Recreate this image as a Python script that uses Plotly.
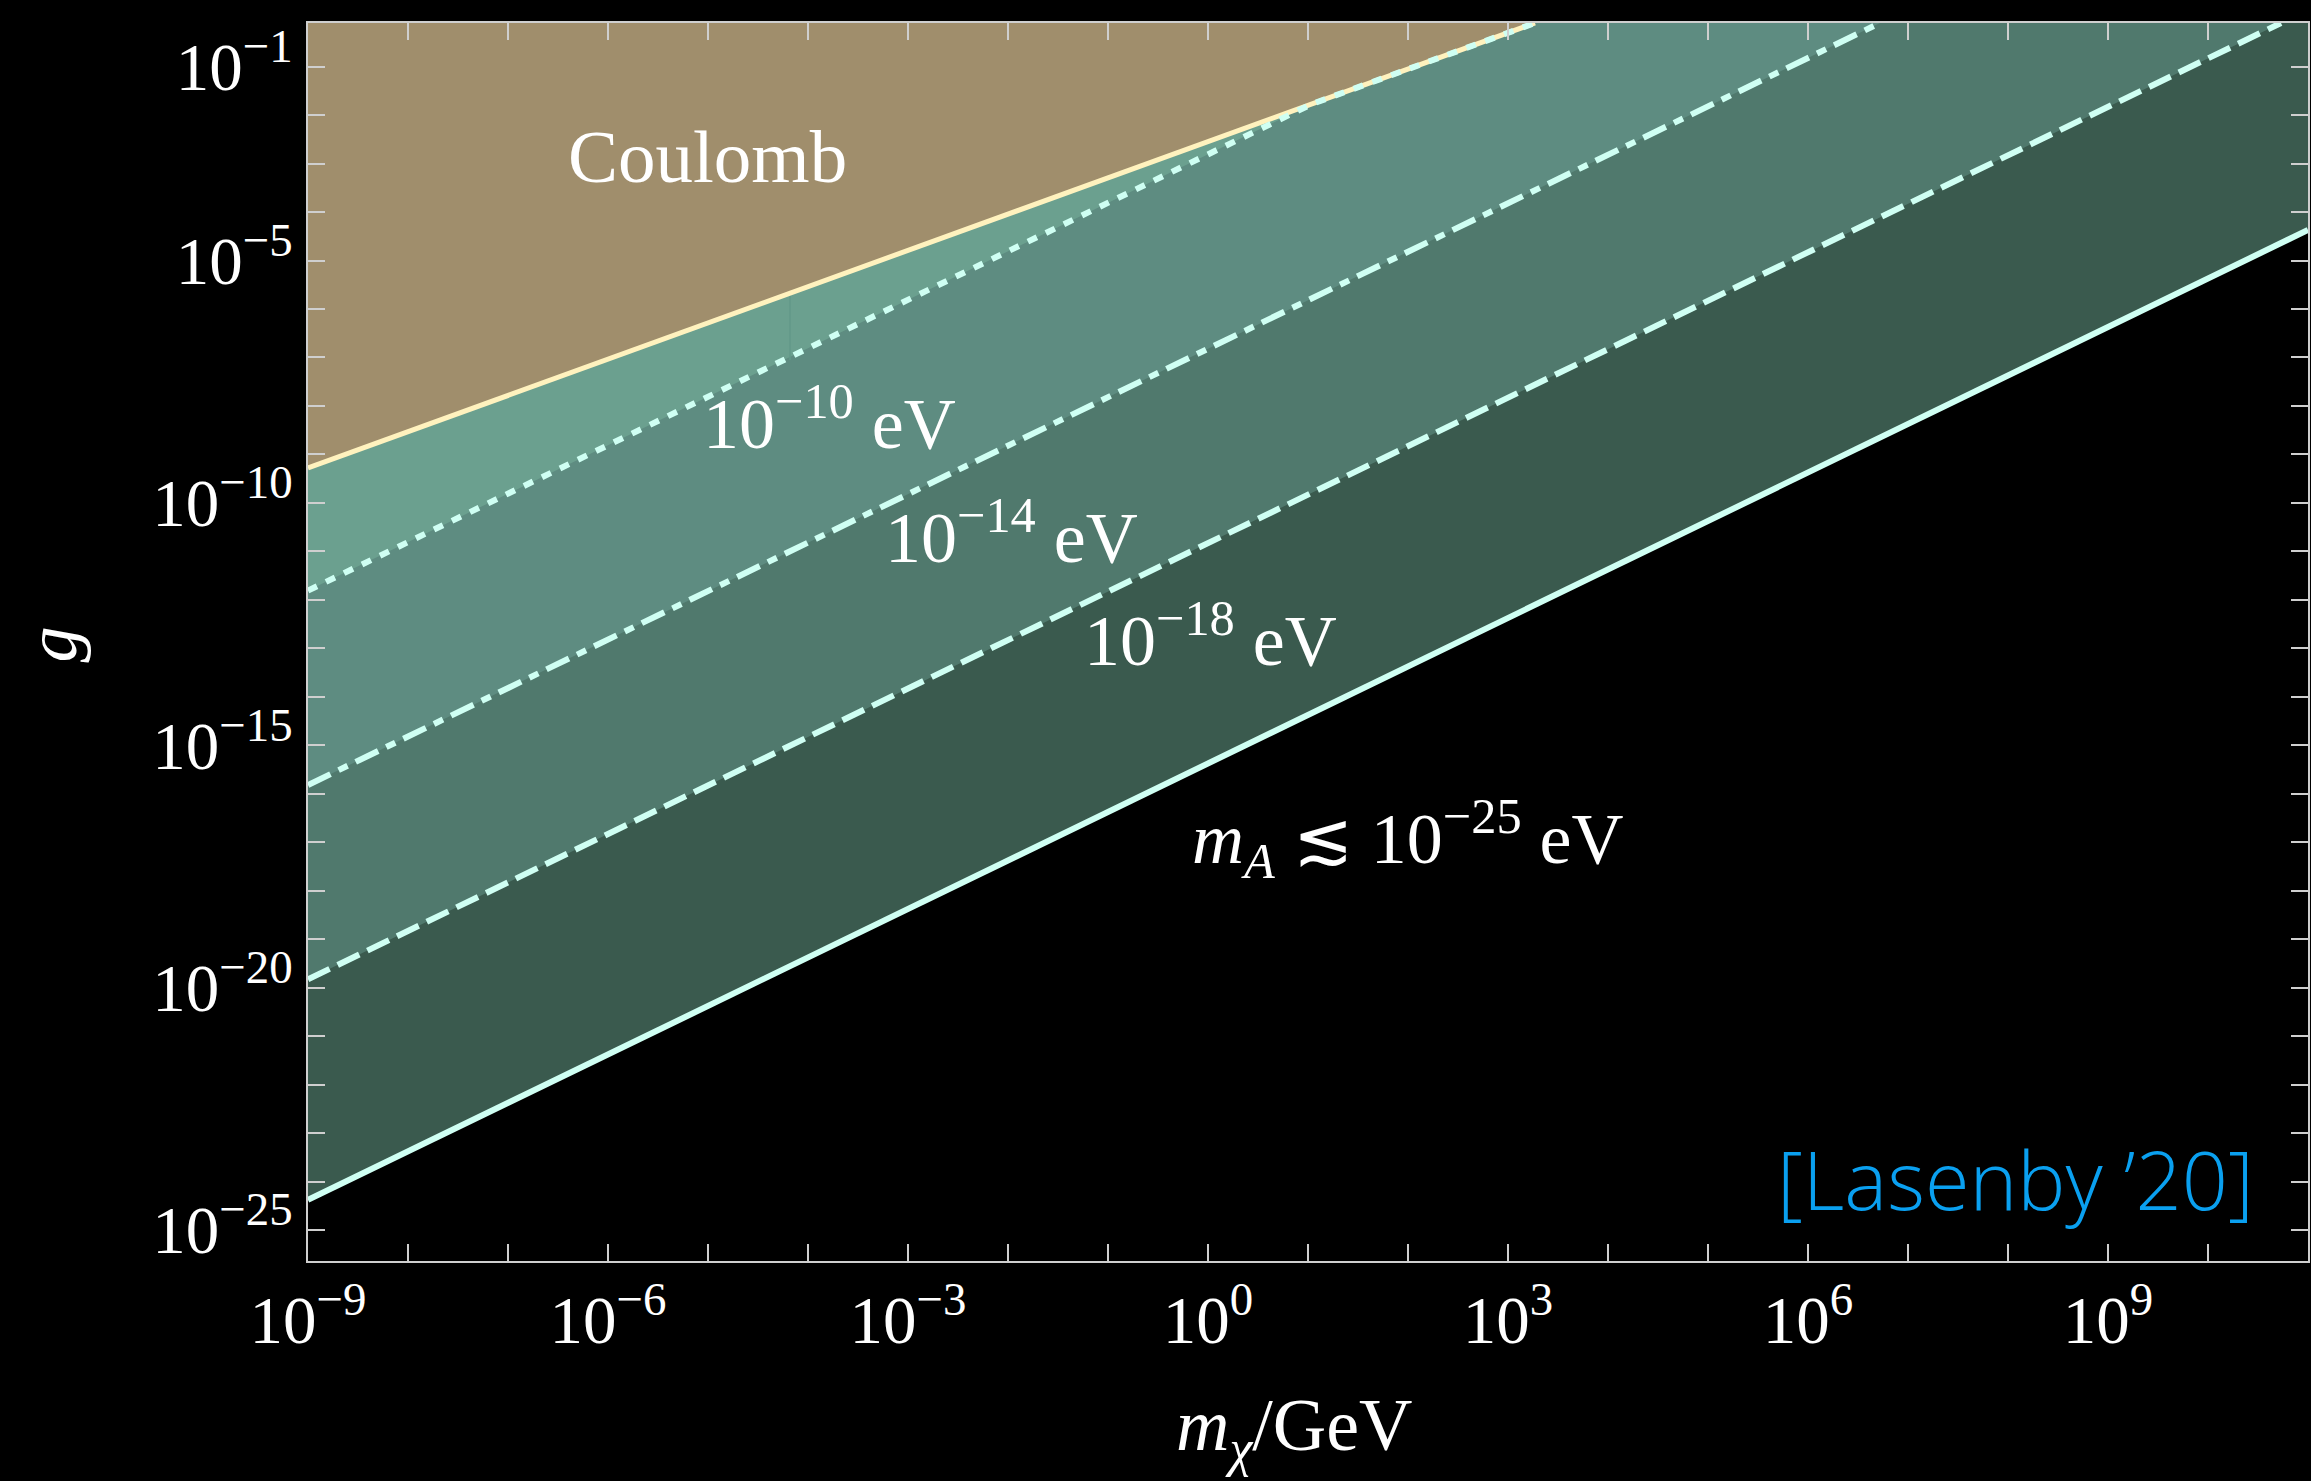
import plotly.graph_objects as go

# ---- axis extents (log10) ----
X_RANGE = [-9.0, 11.0]
Y_RANGE = [-25.64, -0.10]
TOP_EXT = 0.5

# ---- boundary curves (log10 m_chi/GeV, log10 g) ----
coulomb_logm = [-9.0, 3.27]
coulomb_logg = [-9.28, -0.10]
dotted_logm = [-9.0, 1.04, 3.27]          # 10^-10 eV (follows Coulomb after meeting it)
dotted_logg = [-11.81, -1.77, -0.10]
dashdot_logm = [-9.0, 6.72]               # 10^-14 eV
dashdot_logg = [-15.82, -0.10]
dashed_logm = [-9.0, 10.73]               # 10^-18 eV
dashed_logg = [-19.83, -0.10]
solid_logm = [-9.0, 11.0]                 # m_A <~ 10^-25 eV
solid_logg = [-24.38, -4.37]
artifact_logm = [-4.18, -4.18]
artifact_logg = [-5.67, -7.05]

# tick labels (one unlabelled tick per decade in between)
x_label_exps = [-9, -6, -3, 0, 3, 6, 9]
y_label_exps = [-1, -5, -10, -15, -20, -25]

# colours
C_COUL = "#A08E6C"
C_B1 = "#6BA08F"
C_B2 = "#5E8C81"
C_B3 = "#50796D"
C_B4 = "#3A5A4E"
C_LINE = "#CFFFF3"
C_COUL_LINE = "#FFF2BE"
AX = "#CFCFCF"

P = lambda v: [10 ** e for e in v]


def above(lm, lg):
    xs = list(lm) + [lm[-1], lm[0], lm[0]]
    ys = list(lg) + [TOP_EXT, TOP_EXT, lg[0]]
    return P(xs), P(ys)


fig = go.Figure()

for lm, lg, col in [(solid_logm, solid_logg, C_B4), (dashed_logm, dashed_logg, C_B3),
                    (dashdot_logm, dashdot_logg, C_B2), (dotted_logm, dotted_logg, C_B1),
                    (coulomb_logm, coulomb_logg, C_COUL)]:
    xs, ys = above(lm, lg)
    fig.add_trace(go.Scatter(x=xs, y=ys, mode="lines", fill="toself", fillcolor=col,
                             line=dict(width=0, color=col), hoverinfo="skip", showlegend=False))

fig.add_trace(go.Scatter(x=P(artifact_logm), y=P(artifact_logg), mode="lines",
                         line=dict(color="#629888", width=1.5), showlegend=False))

fig.add_trace(go.Scatter(x=P(coulomb_logm), y=P(coulomb_logg), mode="lines",
                         line=dict(color=C_COUL_LINE, width=5), showlegend=False))
fig.add_trace(go.Scatter(x=P(dotted_logm), y=P(dotted_logg), mode="lines",
                         line=dict(color=C_LINE, width=6, dash="10px,10px"), showlegend=False))
fig.add_trace(go.Scatter(x=P(dashdot_logm), y=P(dashdot_logg), mode="lines",
                         line=dict(color=C_LINE, width=6, dash="25px,9px,10px,9px"), showlegend=False))
fig.add_trace(go.Scatter(x=P(dashed_logm), y=P(dashed_logg), mode="lines",
                         line=dict(color=C_LINE, width=6, dash="24px,9px"), showlegend=False))
fig.add_trace(go.Scatter(x=P(solid_logm), y=P(solid_logg), mode="lines",
                         line=dict(color=C_LINE, width=6), showlegend=False))

SERIF = "Liberation Serif"


def sup_label(e):
    s = str(e).replace("-", "\u2212")
    return "10<sup>%s</sup>" % s


minor = dict(dtick=1, ticks="inside", ticklen=17, tickwidth=2, tickcolor=AX, showgrid=False)

fig.update_xaxes(type="log", range=X_RANGE, showgrid=False, zeroline=False,
                 tickvals=P(x_label_exps), ticktext=[sup_label(e) for e in x_label_exps],
                 ticks="inside", ticklen=17, tickwidth=2, tickcolor=AX, minor=minor,
                 showline=True, linecolor=AX, linewidth=2, mirror="ticks",
                 tickfont=dict(family=SERIF, size=67, color="white"))
fig.update_yaxes(type="log", range=Y_RANGE, showgrid=False, zeroline=False,
                 tickvals=P(y_label_exps), ticktext=[sup_label(e) for e in y_label_exps],
                 ticks="inside", ticklen=17, tickwidth=2, tickcolor=AX, minor=minor,
                 showline=True, linecolor=AX, linewidth=2, mirror="ticks",
                 tickfont=dict(family=SERIF, size=67, color="white"))

ann_font = dict(family=SERIF, size=72, color="white")
annotations = [
    dict(x=-5.01, y=-2.86, text="Coulomb", font=dict(family=SERIF, size=75, color="white")),
    dict(x=-3.79, y=-8.25, text="10<sup>\u221210</sup> eV", font=ann_font),
    dict(x=-1.97, y=-10.62, text="10<sup>\u221214</sup> eV", font=ann_font),
    dict(x=0.02, y=-12.73, text="10<sup>\u221218</sup> eV", font=ann_font),
    dict(x=2.0, y=-16.92, text="<i>m</i><sub><i>A</i></sub> \u2272 10<sup>\u221225</sup> eV", font=ann_font),
]
for a in annotations:
    a.update(xref="x", yref="y", showarrow=False, xanchor="center", yanchor="middle")

annotations += [
    dict(xref="paper", yref="paper", x=0.493, y=-0.137, text="<i>m</i><sub><i>\u03c7</i></sub>/GeV",
         showarrow=False, xanchor="center", yanchor="middle",
         font=dict(family=SERIF, size=74, color="white")),
    dict(xref="paper", yref="paper", x=-0.128, y=0.498, text="<i>g</i>", textangle=-90,
         showarrow=False, xanchor="center", yanchor="middle",
         font=dict(family=SERIF, size=72, color="white")),
    dict(xref="paper", yref="paper", x=0.974, y=0.067, text="[Lasenby \u201920]",
         showarrow=False, xanchor="right", yanchor="middle",
         font=dict(family="Open Sans", size=81, color="#0AA0F0", weight=300)),
]

fig.update_layout(width=2311, height=1481, paper_bgcolor="black", plot_bgcolor="black",
                  margin=dict(l=308, r=1, t=23, b=220), annotations=annotations,
                  showlegend=False)

fig.write_html("out.html")
